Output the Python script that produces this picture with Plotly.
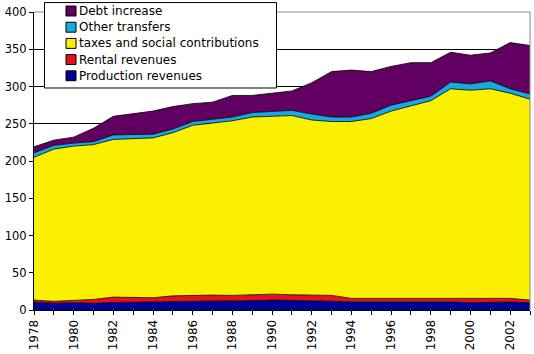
import plotly.graph_objects as go

years = list(range(1978, 2004))
production = [10.7, 9.0, 9.8, 9.0, 10.2, 10.7, 10.7, 11.0, 12.0, 12.0, 12.0, 12.9, 13.3,
              13.0, 12.0, 12.0, 11.0, 11.0, 11.0, 10.7, 10.7, 11.0, 9.8, 10.7, 10.7, 9.8]
rental = [2.6, 2.6, 3.1, 5.2, 7.1, 6.6, 5.7, 8.0, 8.0, 8.0, 7.6, 8.0, 8.0,
          7.4, 7.6, 7.6, 4.6, 4.6, 4.6, 4.4, 4.4, 5.0, 5.3, 5.3, 4.9, 3.5]
taxes = [191.7, 204.4, 207.1, 207.8, 211.7, 212.7, 214.6, 219.0, 228.0, 231.0, 234.4, 238.1, 238.7,
         240.6, 235.4, 233.4, 237.4, 241.4, 251.4, 258.9, 265.9, 281.0, 279.9, 281.0, 275.4, 269.7]
other = [6, 5, 4, 4, 6, 5, 5, 5, 5, 5, 5, 6, 6,
         7, 8, 6, 6, 7, 8, 7, 6, 9, 8.5, 10.5, 6, 7]
debt = [8, 7, 8, 18, 25, 28, 31, 30, 24, 23, 29, 23, 25,
        26, 42, 61, 63, 56, 52, 51, 45, 40, 38.5, 37.5, 62, 65]

names = ["Production revenues", "Rental revenues", "taxes and social contributions",
         "Other transfers", "Debt increase"]
colors = ["#000090", "#E8101A", "#FAF000", "#18A8E2", "#620062"]
series = [production, rental, taxes, other, debt]
tick_text = [str(y) if y % 2 == 0 else "" for y in years]

fig = go.Figure()
for name, col, vals in zip(names, colors, series):
    fig.add_trace(go.Scatter(
        x=years, y=vals, name=name, stackgroup="one", mode="lines",
        line=dict(color="black", width=0.8), fillcolor=col, showlegend=False,
        hoverinfo="skip"))

# plot area in pixels: x 34..530, y 12..312
L, R, T, B = 34, 530, 12, 312
def px(x):
    return (x - L) / (R - L)
def py(y):
    return (B - y) / (B - T)

shapes = [
    dict(type="line", xref="paper", yref="paper", x0=0, x1=1, y0=1, y1=1,
         line=dict(color="#8a8a80", width=1), layer="above"),
    dict(type="line", xref="paper", yref="paper", x0=1, x1=1, y0=0, y1=1,
         line=dict(color="#8a8a80", width=1), layer="above"),
    # legend box
    dict(type="rect", xref="paper", yref="paper", x0=px(44.5), x1=px(276.5), y0=py(88.5), y1=py(2.5),
         line=dict(color="black", width=1), fillcolor="white", layer="above"),
]
annotations = []
legend_names = names[::-1]
legend_colors = colors[::-1]
for i, (name, col) in enumerate(zip(legend_names, legend_colors)):
    cy = 11 + i * 16.3
    shapes.append(dict(type="rect", xref="paper", yref="paper",
                       x0=px(66), x1=px(76), y0=py(cy + 5), y1=py(cy - 5),
                       line=dict(color="black", width=1), fillcolor=col, layer="above"))
    annotations.append(dict(xref="paper", yref="paper", x=px(77), y=py(cy),
                            xanchor="left", yanchor="middle", text=name, showarrow=False,
                            font=dict(family="DejaVu Sans", size=12, color="black")))

fig.update_layout(
    width=534, height=354,
    margin=dict(l=L, r=534 - R, t=T, b=354 - B),
    paper_bgcolor="white", plot_bgcolor="white",
    font=dict(family="DejaVu Sans", size=11.5, color="black"),
    showlegend=False,
    xaxis=dict(
        range=[1978, 2003], tickmode="array", tickvals=years, ticktext=tick_text,
        tickangle=-90, ticks="outside", ticklen=4, tickcolor="black",
        showline=True, linecolor="black", linewidth=1, showgrid=False, zeroline=False,
        tickfont=dict(family="DejaVu Sans", size=12),
    ),
    yaxis=dict(
        range=[0, 400], dtick=50, ticks="outside", ticklen=4, tickcolor="black",
        showline=True, linecolor="black", linewidth=1,
        showgrid=True, gridcolor="black", gridwidth=1, zeroline=False,
        tickfont=dict(family="DejaVu Sans", size=11.5),
    ),
    shapes=shapes,
    annotations=annotations,
)

fig.write_html("out.html")
